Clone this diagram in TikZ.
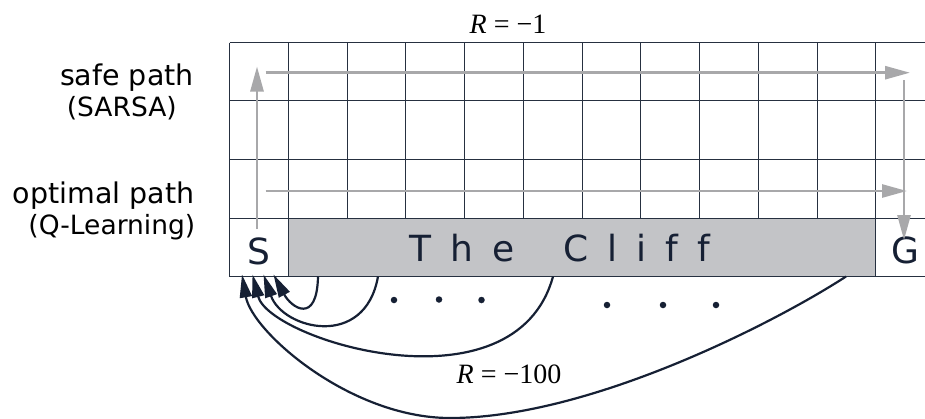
\documentclass[tikz,border=0pt]{standalone}
\usepackage{fontspec}
\setmainfont{DejaVu Sans}
\newfontfamily\timesf{Liberation Serif}
\usetikzlibrary{arrows.meta}
\definecolor{navy}{RGB}{22,32,52}
\definecolor{gridc}{RGB}{38,48,64}
\definecolor{cliffc}{RGB}{195,196,199}
\definecolor{arrgray}{RGB}{168,168,170}
\newcommand\lsp{\hspace{19pt}}
\begin{document}
\begin{tikzpicture}[x=1pt,y=-1pt,
  gridline/.style={draw=gridc,line width=1.7pt},
  cell/.style={draw=gridc,line width=1.7pt,inner sep=0pt,minimum width=59pt,minimum height=58pt},
  bigtext/.style={font=\fontsize{36}{40}\selectfont,text=navy,inner sep=0pt,anchor=base},
  lefttext/.style={font=\fontsize{28.5}{30}\selectfont,text=black,inner sep=0pt,anchor=base east},
  subtext/.style={font=\fontsize{26.5}{28}\selectfont,text=black,inner sep=0pt,anchor=base east},
  rtext/.style={font=\timesf\fontsize{28}{30}\selectfont,text=black,inner sep=0pt,anchor=base},
  grayarrow/.style={draw=arrgray,line width=2.7pt,-{Triangle[length=25pt,width=13pt]}},
  backarrow/.style={draw=navy,line width=2.2pt,-{Triangle[length=23pt,width=12pt]}},
  dot/.style={circle,fill=navy,inner sep=0pt,minimum size=6.5pt}]
\clip (0,0) rectangle (925,418);
\fill[white] (0,0) rectangle (925,418);
% grid
\foreach \x in {229.5,288.5,347.5,405.5,464.5,523.5,582.5,640.5,699.5,758.5,817.5,875.5,934.5}{\draw[gridline] (\x,42.5) -- (\x,218.5);}
\foreach \y in {42.5,100.5,159.5,218.5}{\draw[gridline] (229.5,\y) -- (934.5,\y);}
\node[cell,fill=white] (S) at (259,247.5) {};
\node[cell,fill=cliffc,minimum width=587pt] (cliff) at (582,247.5) {};
\node[cell,fill=white] (G) at (905,247.5) {};
\node[bigtext] (Slbl) at (258.9,264.5) {S};
\node[bigtext] (Glbl) at (905.1,263.5) {G};
\node[bigtext,anchor=base west] (clifflbl) at (409,261) {T\lsp h\lsp e\lsp\ \lsp C\lsp l\lsp i\lsp f\lsp f};
% left labels
\node[lefttext] (safe) at (194,85) {safe path};
\node[subtext] (sarsa) at (177,116) {(SARSA)};
\node[lefttext] (opt) at (194.5,203) {optimal path};
\node[subtext] (qlearn) at (195.5,234) {(Q-Learning)};
% rewards
\node[rtext] (r1) at (508,33) {\itshape R\upshape\ =\ −1};
\node[rtext] (r100) at (509,383) {\itshape R\upshape\ =\ −100};
% gray paths
\coordinate (a1) at (257,229);
\coordinate (a2) at (257,66.5);
\coordinate (a3) at (265.5,72.7);
\coordinate (a4) at (910,72.7);
\coordinate (a5) at (904,80);
\coordinate (a6) at (904,240);
\coordinate (o1) at (265.5,191);
\coordinate (o2) at (907,191);
\draw[grayarrow] (a1) -- (a2);
\draw[grayarrow] (a3) -- (a4);
\draw[grayarrow] (a5) -- (a6);
\draw[grayarrow] (o1) -- (o2);
% falls back to start
\coordinate (c1) at (318,276.5);
\coordinate (c2) at (378,276.5);
\coordinate (c3) at (553,276.5);
\coordinate (c4) at (846,276.5);
\coordinate (s1) at (273.5,274.5);
\coordinate (s2) at (263.5,274.5);
\coordinate (s3) at (252.5,274.5);
\coordinate (s4) at (242,274.5);
\draw[backarrow] (c1) .. controls (317,325) and (291.4,307.9) .. (s1);
\draw[backarrow] (c2) .. controls (365,350) and (282.7,329.2) .. (s2);
\draw[backarrow] (c3) .. controls (515,415) and (269.4,340.4) .. (s3);
\draw[backarrow] (c4) .. controls (776,322) and (590,418) .. (450,418) .. controls (350,418) and (251.9,331.7) .. (s4);
% dots
\node[dot] (d1) at (394,300) {};
\node[dot] (d2) at (439,299.5) {};
\node[dot] (d3) at (481.5,300) {};
\node[dot] (d4) at (607,305) {};
\node[dot] (d5) at (663,305) {};
\node[dot] (d6) at (716,305) {};
\end{tikzpicture}
\end{document}
